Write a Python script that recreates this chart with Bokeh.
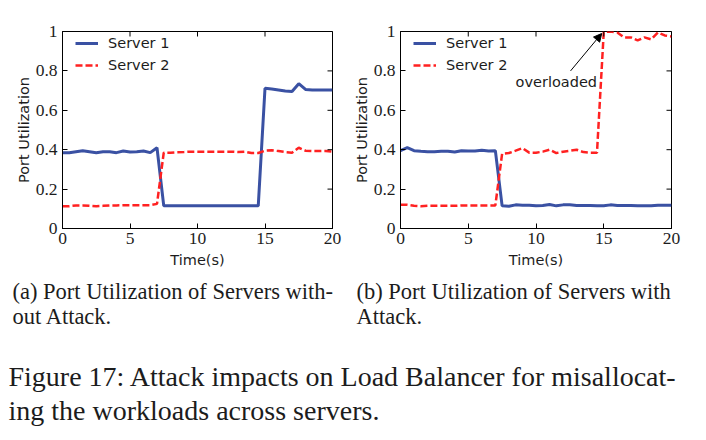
import math
from bokeh.plotting import figure
from bokeh.models import Range1d, FixedTicker, Legend, LegendItem, Arrow, NormalHead, Label
from bokeh.layouts import column, row
from bokeh.embed import file_html
from bokeh.resources import INLINE
from bokeh.core.properties import value

# ---------------- data ----------------
time = [0, 0.5, 1, 1.5, 2, 2.5, 3, 3.5, 4, 4.5, 5, 5.5, 6, 6.5, 7, 7.5, 8, 8.5, 9, 9.5,
        10, 10.5, 11, 11.5, 12, 12.5, 13, 13.5, 14, 14.5, 15, 15.5, 16, 16.5, 17, 17.5,
        18, 18.5, 19, 19.5, 20]

# (a) without attack
server1_a = [0.385, 0.385, 0.390, 0.395, 0.390, 0.385, 0.390, 0.390, 0.385, 0.393,
             0.388, 0.390, 0.393, 0.385, 0.410, 0.115, 0.115, 0.115, 0.115, 0.115,
             0.115, 0.115, 0.115, 0.115, 0.115, 0.115, 0.115, 0.115, 0.115, 0.115,
             0.712, 0.708, 0.703, 0.698, 0.695, 0.735, 0.706, 0.703, 0.703, 0.703, 0.703]
server2_a = [0.113, 0.113, 0.117, 0.117, 0.115, 0.113, 0.115, 0.117, 0.117, 0.118,
             0.118, 0.118, 0.118, 0.118, 0.125, 0.385, 0.385, 0.387, 0.388, 0.390,
             0.390, 0.390, 0.390, 0.390, 0.390, 0.390, 0.388, 0.390, 0.383, 0.383,
             0.395, 0.397, 0.393, 0.388, 0.385, 0.410, 0.395, 0.393, 0.393, 0.393, 0.390]

# (b) with attack
server1_b = [0.395, 0.410, 0.395, 0.392, 0.390, 0.390, 0.392, 0.392, 0.388, 0.395,
             0.393, 0.393, 0.397, 0.393, 0.395, 0.115, 0.113, 0.120, 0.118, 0.118,
             0.115, 0.117, 0.122, 0.115, 0.120, 0.120, 0.117, 0.117, 0.117, 0.115,
             0.115, 0.120, 0.117, 0.117, 0.117, 0.115, 0.115, 0.115, 0.118, 0.118, 0.118]
server2_b = [0.120, 0.120, 0.115, 0.113, 0.115, 0.115, 0.115, 0.115, 0.115, 0.117,
             0.117, 0.117, 0.117, 0.117, 0.117, 0.380, 0.383, 0.395, 0.408, 0.385,
             0.385, 0.390, 0.400, 0.383, 0.390, 0.395, 0.400, 0.388, 0.385, 0.385,
             0.997, 1.000, 0.995, 0.970, 0.970, 0.955, 0.970, 0.960, 0.995, 0.980, 0.975]

series_labels = ["Server 1", "Server 2"]
x_ticks = [0, 5, 10, 15, 20]
x_tick_labels = ["0", "5", "10", "15", "20"]
y_ticks = [0, 0.2, 0.4, 0.6, 0.8, 1]
y_tick_labels = ["0", "0.2", "0.4", "0.6", "0.8", "1"]
x_label = "Time(s)"
y_label = "Port Utilization"

annotation_text = "overloaded"
annotation_xy = (11.5, 0.745)
arrow_from = (12.55, 0.80)
arrow_to = (14.85, 0.99)

sub_captions = [
    ["(a) Port Utilization of Servers with-", "out Attack."],
    ["(b) Port Utilization of Servers with", "Attack."],
]
fig_caption = ["Figure 17: Attack impacts on Load Balancer for misallocat-",
               "ing the workloads across servers."]

BLUE = "#3a51a3"
RED = "#ff2121"
SERIF = "Liberation Serif"
SANS = "DejaVu Sans"
TXT = "#1c1c1c"


def style_axis(ax, ticks, labels):
    ax.ticker = FixedTicker(ticks=ticks)
    ax.major_label_overrides = {t: l for t, l in zip(ticks, labels)}
    ax.major_tick_in = 5
    ax.major_tick_out = 0
    ax.minor_tick_in = 0
    ax.minor_tick_out = 0
    ax.major_tick_line_color = "black"
    ax.axis_line_color = "black"
    ax.major_label_text_font = SERIF
    ax.major_label_text_color = TXT
    ax.major_label_text_font_size = "17.5px"


def make_panel(s1, s2, w, bl, br, annotate=False):
    p = figure(width=w, height=270, x_range=Range1d(x_ticks[0], x_ticks[-1]),
               y_range=Range1d(y_ticks[0], y_ticks[-1]),
               output_backend="svg", toolbar_location=None,
               min_border_left=bl, min_border_right=br, min_border_top=31, min_border_bottom=41)
    p.xgrid.visible = False
    p.ygrid.visible = False
    p.outline_line_color = "black"
    p.outline_line_alpha = 1
    p.outline_line_width = 1
    p.background_fill_color = "white"

    r1 = p.line(time, s1, line_color=BLUE, line_width=3)
    r2 = p.line(time, s2, line_color=RED, line_width=2.5, line_dash="7 3")

    style_axis(p.xaxis[0], x_ticks, x_tick_labels)
    style_axis(p.yaxis[0], y_ticks, y_tick_labels)
    p.xaxis[0].major_label_standoff = 4
    p.yaxis[0].major_label_standoff = 5
    for ax, lab in ((p.xaxis[0], x_label), (p.yaxis[0], y_label)):
        ax.axis_label = lab
        ax.axis_label_text_font = SANS
        ax.axis_label_text_font_size = "14.5px"
        ax.axis_label_text_font_style = "normal"
        ax.axis_label_text_color = TXT
    p.xaxis[0].axis_label_standoff = 5
    p.yaxis[0].axis_label_standoff = 1

    # mirrored inward ticks on the top and right edges (dash markers clipped by the frame)
    p.scatter(x=x_ticks, y=[y_ticks[-1]] * len(x_ticks), marker="dash", size=10,
              angle=math.pi / 2, line_color="black", line_width=1)
    p.scatter(x=[x_ticks[-1]] * len(y_ticks), y=y_ticks, marker="dash", size=10,
              line_color="black", line_width=1)

    legend = Legend(items=[LegendItem(label=series_labels[0], renderers=[r1]),
                           LegendItem(label=series_labels[1], renderers=[r2])],
                    location=(13, 152), border_line_color=None, background_fill_alpha=0,
                    padding=0, margin=0, spacing=0, glyph_width=23, glyph_height=22,
                    label_height=22, label_standoff=10, label_text_font=SANS,
                    label_text_font_size="14.5px", label_text_color=TXT)
    p.add_layout(legend)

    if annotate:
        p.add_layout(Arrow(end=NormalHead(size=8, fill_color="black", line_color="black"),
                           x_start=arrow_from[0], y_start=arrow_from[1],
                           x_end=arrow_to[0], y_end=arrow_to[1],
                           line_color="black", line_width=1))
        p.add_layout(Label(x=annotation_xy[0], y=annotation_xy[1], text=annotation_text,
                           text_align="center", text_baseline="alphabetic",
                           text_font=SANS, text_font_size="14.5px", text_color=TXT))
    return p


p1 = make_panel(server1_a, server2_a, 350, 62, 18)
p2 = make_panel(server1_b, server2_b, 356, 50, 35, annotate=True)

pc = figure(width=706, height=170, x_range=Range1d(0, 706), y_range=Range1d(170, 0),
            output_backend="svg", toolbar_location=None, min_border=0,
            x_axis_location=None, y_axis_location=None)
pc.xgrid.visible = False
pc.ygrid.visible = False
pc.outline_line_color = None

pc.text(x=[12, 12, 356, 356], y=[21, 46, 21, 46],
        text=[sub_captions[0][0], sub_captions[0][1], sub_captions[1][0], sub_captions[1][1]],
        text_font=value(SERIF), text_font_size="22.5px", text_baseline="alphabetic",
        text_color=TXT)
pc.text(x=[8, 8], y=[106, 140], text=fig_caption,
        text_font=value(SERIF), text_font_size="28px", text_baseline="alphabetic",
        text_color=TXT)

layout = column(row(p1, p2), pc)
open("out.html", "w").write(file_html(layout, INLINE))
